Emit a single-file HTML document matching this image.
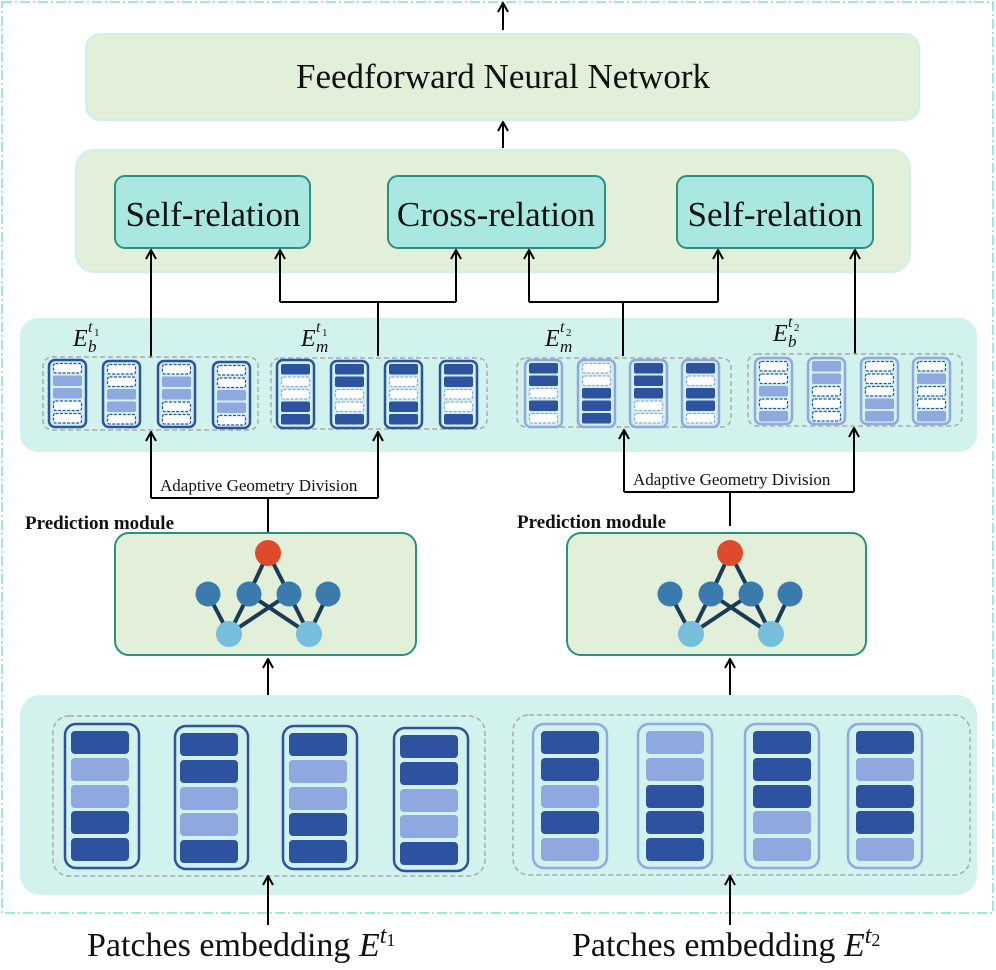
<!DOCTYPE html>
<html><head><meta charset="utf-8"><style>
html,body{margin:0;padding:0;background:#fff;}
svg{display:block;}
text{font-family:"Liberation Serif",serif;fill:#111;}
</style></head><body>
<svg width="996" height="970" viewBox="0 0 996 970" xmlns="http://www.w3.org/2000/svg">
<defs>
<marker id="ar" viewBox="0 0 12 12" refX="11" refY="6" markerWidth="12" markerHeight="12" markerUnits="userSpaceOnUse" orient="auto">
<polyline points="2,1 11,6 2,11" fill="none" stroke="#000" stroke-width="2"/>
</marker>
<g id="D"><rect width="29" height="10.5" rx="2" fill="#2c52a0"/></g>
<g id="L"><rect width="29" height="10.5" rx="2" fill="#8fa8e0"/></g>
<g id="W"><rect x="0.5" y="0.5" width="28" height="9.5" rx="2" fill="#fff" stroke="#2c52a0" stroke-width="1.2" stroke-dasharray="3,1.5"/></g>
<g id="w"><rect x="0.5" y="0.5" width="28" height="9.5" rx="2" fill="#fff" stroke="#8fa8e0" stroke-width="1.2" stroke-dasharray="3,1.5"/></g>
<g id="BD"><rect width="58" height="23" rx="4" fill="#2c52a0"/></g>
<g id="BL"><rect width="58" height="23" rx="4" fill="#8fa8e0"/></g>
</defs>

<rect x="2" y="2" width="991" height="911" fill="none" stroke="#7ee0d8" stroke-width="1.5" stroke-dasharray="10,3,2,3"/>

<line x1="503" y1="30" x2="503" y2="3" stroke="#000" stroke-width="2" marker-end="url(#ar)"/>
<rect x="86" y="34" width="833" height="86" rx="14" fill="#e2efd9" stroke="#d0f0ec" stroke-width="2"/>
<text x="503" y="88" font-size="35" text-anchor="middle">Feedforward Neural Network</text>
<line x1="503" y1="148" x2="503" y2="122" stroke="#000" stroke-width="2" marker-end="url(#ar)"/>

<rect x="76" y="150" width="834" height="122" rx="18" fill="#e2efd9" stroke="#d0f0ec" stroke-width="2"/>
<rect x="115" y="176" width="195" height="72" rx="10" fill="#a8e8e0" stroke="#2a9080" stroke-width="2"/>
<text x="213" y="226" font-size="35" text-anchor="middle">Self-relation</text>
<rect x="388" y="176" width="217" height="72" rx="10" fill="#a8e8e0" stroke="#2a9080" stroke-width="2"/>
<text x="496" y="226" font-size="35" text-anchor="middle">Cross-relation</text>
<rect x="677" y="176" width="196" height="72" rx="10" fill="#a8e8e0" stroke="#2a9080" stroke-width="2"/>
<text x="775" y="226" font-size="35" text-anchor="middle">Self-relation</text>

<rect x="20" y="318" width="957" height="134" rx="18" fill="#d2f2ee"/>

<g stroke="#000" stroke-width="2" fill="none">
<line x1="151" y1="358" x2="151" y2="250" marker-end="url(#ar)"/>
<polyline points="378,356 378,302"/>
<polyline points="280,302 456,302"/>
<line x1="280" y1="302" x2="280" y2="250" marker-end="url(#ar)"/>
<line x1="456" y1="302" x2="456" y2="250" marker-end="url(#ar)"/>
<polyline points="623,356 623,302"/>
<polyline points="529,302 718,302"/>
<line x1="529" y1="302" x2="529" y2="250" marker-end="url(#ar)"/>
<line x1="718" y1="302" x2="718" y2="250" marker-end="url(#ar)"/>
<line x1="855" y1="354" x2="855" y2="250" marker-end="url(#ar)"/>
</g>

<text x="73" y="346" font-size="24" font-style="italic">E</text><text x="88" y="352" font-size="17" font-style="italic">b</text><text x="88" y="332" font-size="16" font-style="italic">t</text><text x="94" y="336" font-size="11">1</text>
<text x="301" y="346" font-size="24" font-style="italic">E</text><text x="316" y="352" font-size="17" font-style="italic">m</text><text x="316" y="332" font-size="16" font-style="italic">t</text><text x="322" y="336" font-size="11">1</text>
<text x="545" y="346" font-size="24" font-style="italic">E</text><text x="560" y="352" font-size="17" font-style="italic">m</text><text x="560" y="332" font-size="16" font-style="italic">t</text><text x="566" y="336" font-size="11">2</text>
<text x="773" y="341" font-size="24" font-style="italic">E</text><text x="788" y="347" font-size="17" font-style="italic">b</text><text x="788" y="327" font-size="16" font-style="italic">t</text><text x="794" y="331" font-size="11">2</text>

<g fill="none" stroke="#aaa" stroke-width="1.5" stroke-dasharray="5,3">
<rect x="43" y="357" width="215" height="73" rx="9"/>
<rect x="271" y="358" width="216" height="71" rx="9"/>
<rect x="517" y="358" width="214" height="69" rx="9"/>
<rect x="748" y="354" width="214" height="72" rx="9"/>
</g>

<g fill="none" stroke="#2c52a0" stroke-width="2.5">
<rect x="49" y="360" width="37" height="67" rx="6"/><rect x="103" y="361" width="37" height="66" rx="6"/><rect x="158" y="361" width="37" height="66" rx="6"/><rect x="213" y="362" width="37" height="66" rx="6"/>
<rect x="277" y="360" width="37" height="68" rx="6"/><rect x="331" y="361" width="37" height="67" rx="6"/><rect x="385" y="361" width="37" height="67" rx="6"/><rect x="440" y="361" width="37" height="67" rx="6"/>
</g>
<g fill="none" stroke="#8fa8e0" stroke-width="2.5">
<rect x="525" y="360" width="37" height="67" rx="6"/><rect x="578" y="360" width="37" height="67" rx="6"/><rect x="630" y="360" width="37" height="67" rx="6"/><rect x="682" y="360" width="37" height="67" rx="6"/>
<rect x="755" y="358" width="37" height="66" rx="6"/><rect x="808" y="358" width="37" height="66" rx="6"/><rect x="861" y="358" width="37" height="66" rx="6"/><rect x="913" y="358" width="37" height="66" rx="6"/>
</g>
<g transform="translate(53,363)"><use href="#W"/><use href="#L" y="12.5"/><use href="#L" y="25"/><use href="#W" y="37.5"/><use href="#W" y="50"/></g>
<g transform="translate(107,364)"><use href="#W"/><use href="#W" y="12.5"/><use href="#L" y="25"/><use href="#L" y="37.5"/><use href="#W" y="50"/></g>
<g transform="translate(162,364)"><use href="#W"/><use href="#L" y="12.5"/><use href="#L" y="25"/><use href="#W" y="37.5"/><use href="#W" y="50"/></g>
<g transform="translate(217,365)"><use href="#W"/><use href="#W" y="12.5"/><use href="#L" y="25"/><use href="#L" y="37.5"/><use href="#W" y="50"/></g>
<g transform="translate(281,364)"><use href="#D"/><use href="#w" y="12.5"/><use href="#w" y="25"/><use href="#D" y="37.5"/><use href="#D" y="50"/></g>
<g transform="translate(335,364)"><use href="#D"/><use href="#D" y="12.5"/><use href="#w" y="25"/><use href="#w" y="37.5"/><use href="#D" y="50"/></g>
<g transform="translate(389,364)"><use href="#D"/><use href="#w" y="12.5"/><use href="#w" y="25"/><use href="#D" y="37.5"/><use href="#D" y="50"/></g>
<g transform="translate(444,364)"><use href="#D"/><use href="#D" y="12.5"/><use href="#w" y="25"/><use href="#w" y="37.5"/><use href="#D" y="50"/></g>
<g transform="translate(529,363)"><use href="#D"/><use href="#D" y="12.5"/><use href="#w" y="25"/><use href="#D" y="37.5"/><use href="#w" y="50"/></g>
<g transform="translate(582,363)"><use href="#w"/><use href="#w" y="12.5"/><use href="#D" y="25"/><use href="#D" y="37.5"/><use href="#D" y="50"/></g>
<g transform="translate(634,363)"><use href="#D"/><use href="#D" y="12.5"/><use href="#D" y="25"/><use href="#w" y="37.5"/><use href="#w" y="50"/></g>
<g transform="translate(686,363)"><use href="#D"/><use href="#w" y="12.5"/><use href="#D" y="25"/><use href="#D" y="37.5"/><use href="#w" y="50"/></g>
<g transform="translate(759,361)"><use href="#W"/><use href="#W" y="12.5"/><use href="#L" y="25"/><use href="#W" y="37.5"/><use href="#L" y="50"/></g>
<g transform="translate(812,361)"><use href="#L"/><use href="#L" y="12.5"/><use href="#W" y="25"/><use href="#W" y="37.5"/><use href="#W" y="50"/></g>
<g transform="translate(865,361)"><use href="#W"/><use href="#W" y="12.5"/><use href="#W" y="25"/><use href="#L" y="37.5"/><use href="#L" y="50"/></g>
<g transform="translate(917,361)"><use href="#W"/><use href="#L" y="12.5"/><use href="#W" y="25"/><use href="#W" y="37.5"/><use href="#L" y="50"/></g>

<g stroke="#000" stroke-width="2" fill="none">
<polyline points="151,498 378,498"/>
<line x1="151" y1="498" x2="151" y2="432" marker-end="url(#ar)"/>
<line x1="378" y1="498" x2="378" y2="432" marker-end="url(#ar)"/>
<line x1="268" y1="498" x2="268" y2="532"/>
<polyline points="624,492 854,492"/>
<line x1="624" y1="492" x2="624" y2="430" marker-end="url(#ar)"/>
<line x1="854" y1="492" x2="854" y2="428" marker-end="url(#ar)"/>
<line x1="730" y1="492" x2="730" y2="526"/>
</g>
<text x="160" y="491" font-size="17">Adaptive Geometry Division</text>
<text x="633" y="485" font-size="17">Adaptive Geometry Division</text>
<text x="25" y="529" font-size="19" font-weight="bold">Prediction module</text>
<text x="517" y="528" font-size="19" font-weight="bold">Prediction module</text>

<rect x="115" y="533" width="301" height="122" rx="14" fill="#e2efd9" stroke="#2a9080" stroke-width="2"/>
<rect x="567" y="533" width="299" height="122" rx="14" fill="#e2efd9" stroke="#2a9080" stroke-width="2"/>
<g id="net">
<g stroke="#1a3a55" stroke-width="4">
<line x1="268" y1="553" x2="249" y2="594"/><line x1="268" y1="553" x2="289" y2="594"/>
<line x1="208" y1="594" x2="229" y2="634"/><line x1="249" y1="594" x2="229" y2="634"/>
<line x1="249" y1="594" x2="309" y2="634"/><line x1="289" y1="594" x2="229" y2="634"/>
<line x1="289" y1="594" x2="309" y2="634"/><line x1="328" y1="594" x2="309" y2="634"/>
</g>
<circle cx="268" cy="553" r="13" fill="#e04a2c"/>
<circle cx="208" cy="594" r="12.5" fill="#3a7aad"/><circle cx="249" cy="594" r="12.5" fill="#3a7aad"/>
<circle cx="289" cy="594" r="12.5" fill="#3a7aad"/><circle cx="328" cy="594" r="12.5" fill="#3a7aad"/>
<circle cx="229" cy="634" r="13" fill="#76bedc"/><circle cx="309" cy="634" r="13" fill="#76bedc"/>
</g>
<use href="#net" x="462"/>

<g stroke="#000" stroke-width="2">
<line x1="268" y1="705" x2="268" y2="659" marker-end="url(#ar)"/>
<line x1="730" y1="705" x2="730" y2="659" marker-end="url(#ar)"/>
</g>

<rect x="20" y="695" width="957" height="200" rx="20" fill="#d2f2ee"/>
<g fill="none" stroke="#aaa" stroke-width="1.5" stroke-dasharray="5,3">
<rect x="53" y="716" width="432" height="160" rx="16"/>
<rect x="513" y="715" width="457" height="160" rx="16"/>
</g>
<g fill="none" stroke="#2c52a0" stroke-width="2.5">
<rect x="65" y="724" width="74" height="144" rx="11"/><rect x="175" y="726" width="73" height="143" rx="11"/>
<rect x="283" y="726" width="74" height="143" rx="11"/><rect x="394" y="728" width="74" height="143" rx="11"/>
</g>
<g fill="none" stroke="#8fa8e0" stroke-width="2.5">
<rect x="533" y="724" width="74" height="144" rx="11"/><rect x="638" y="724" width="74" height="144" rx="11"/>
<rect x="745" y="724" width="74" height="144" rx="11"/><rect x="848" y="724" width="74" height="144" rx="11"/>
</g>
<g transform="translate(71,731)"><use href="#BD"/><use href="#BL" y="27"/><use href="#BL" y="54"/><use href="#BD" y="80"/><use href="#BD" y="107"/></g>
<g transform="translate(180,733)"><use href="#BD"/><use href="#BD" y="27"/><use href="#BL" y="54"/><use href="#BL" y="80"/><use href="#BD" y="107"/></g>
<g transform="translate(289,733)"><use href="#BD"/><use href="#BL" y="27"/><use href="#BL" y="54"/><use href="#BD" y="80"/><use href="#BD" y="107"/></g>
<g transform="translate(400,735)"><use href="#BD"/><use href="#BD" y="27"/><use href="#BL" y="54"/><use href="#BL" y="80"/><use href="#BD" y="107"/></g>
<g transform="translate(541,731)"><use href="#BD"/><use href="#BD" y="27"/><use href="#BL" y="54"/><use href="#BD" y="80"/><use href="#BL" y="107"/></g>
<g transform="translate(646,731)"><use href="#BL"/><use href="#BL" y="27"/><use href="#BD" y="54"/><use href="#BD" y="80"/><use href="#BD" y="107"/></g>
<g transform="translate(753,731)"><use href="#BD"/><use href="#BD" y="27"/><use href="#BD" y="54"/><use href="#BL" y="80"/><use href="#BL" y="107"/></g>
<g transform="translate(856,731)"><use href="#BD"/><use href="#BL" y="27"/><use href="#BD" y="54"/><use href="#BD" y="80"/><use href="#BL" y="107"/></g>

<g stroke="#000" stroke-width="2">
<line x1="268" y1="925" x2="268" y2="876" marker-end="url(#ar)"/>
<line x1="730" y1="925" x2="730" y2="876" marker-end="url(#ar)"/>
</g>
<text x="87" y="956" font-size="34">Patches embedding <tspan font-style="italic">E</tspan><tspan font-style="italic" font-size="24" dy="-13">t</tspan><tspan font-size="18" dy="3">1</tspan></text>
<text x="572" y="956" font-size="34">Patches embedding <tspan font-style="italic">E</tspan><tspan font-style="italic" font-size="24" dy="-13">t</tspan><tspan font-size="18" dy="3">2</tspan></text>
</svg>
</body></html>
